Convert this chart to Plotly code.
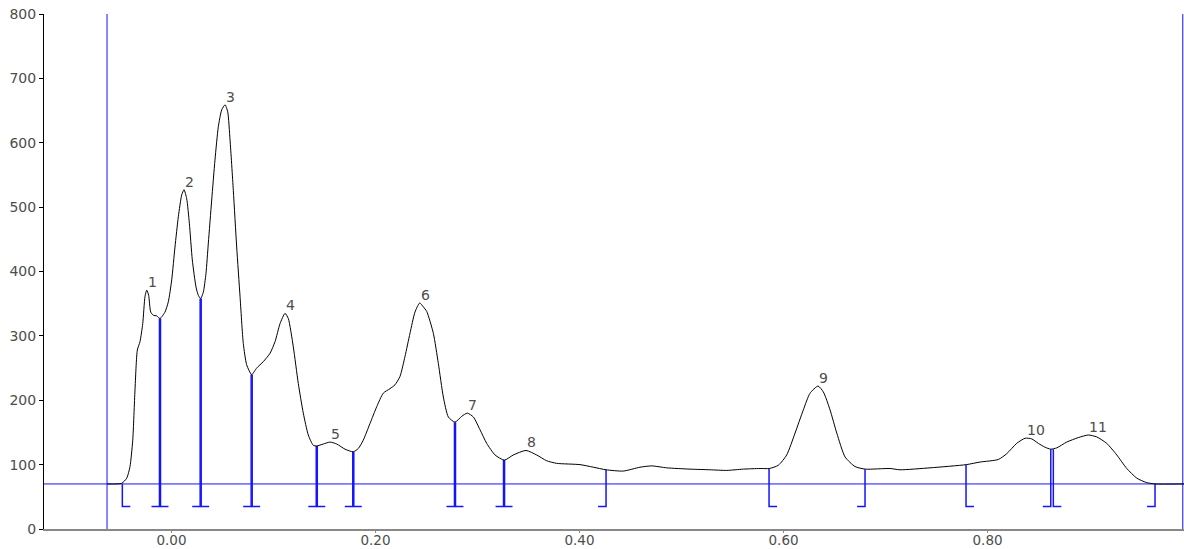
import plotly.graph_objects as go

# Detector trace: retention position vs. signal
trace_t = [
    -0.0632, -0.0488, -0.0439, -0.0407, -0.0380, -0.0358, -0.0335, -0.0309,
    -0.0282, -0.0260, -0.0243, -0.0224, -0.0204, -0.0178, -0.0145, -0.0113,
    -0.0064, -0.0031, 0.0002, 0.0034, 0.0067, 0.0100, 0.0123, 0.0149,
    0.0175, 0.0204, 0.0240, 0.0263, 0.0286, 0.0312, 0.0338, 0.0361,
    0.0394, 0.0426, 0.0459, 0.0492, 0.0525, 0.0551, 0.0574, 0.0606,
    0.0639, 0.0672, 0.0704, 0.0737, 0.0786, 0.0835, 0.0900, 0.0966,
    0.1015, 0.1064, 0.1113, 0.1145, 0.1194, 0.1243, 0.1292, 0.1341,
    0.1390, 0.1424, 0.1488, 0.1554, 0.1620, 0.1701, 0.1782, 0.1831,
    0.1880, 0.1946, 0.2012, 0.2076, 0.2142, 0.2191, 0.2240, 0.2289,
    0.2338, 0.2387, 0.2433, 0.2469, 0.2502, 0.2567, 0.2616, 0.2665,
    0.2714, 0.2779, 0.2845, 0.2900, 0.2959, 0.3025, 0.3090, 0.3172,
    0.3263, 0.3351, 0.3475, 0.3580, 0.3678, 0.3776, 0.4005, 0.4135,
    0.4260, 0.4429, 0.4593, 0.4708, 0.4855, 0.5083, 0.5279, 0.5443,
    0.5606, 0.5770, 0.5861, 0.5949, 0.6031, 0.6113, 0.6194, 0.6260,
    0.6338, 0.6390, 0.6456, 0.6522, 0.6603, 0.6701, 0.6802, 0.7044,
    0.7142, 0.7436, 0.7792, 0.7926, 0.8106, 0.8188, 0.8286, 0.8368,
    0.8433, 0.8498, 0.8564, 0.8620, 0.8678, 0.8776, 0.8890, 0.8988,
    0.9071, 0.9169, 0.9267, 0.9365, 0.9463, 0.9561, 0.9645, 0.9926,
]
trace_signal = [
    70, 71, 79, 97, 138, 216, 278, 291,
    319, 361, 371, 363, 337, 332, 331, 327,
    337, 353, 387, 438, 485, 519, 527, 513,
    475, 418, 376, 363, 358, 368, 397, 444,
    511, 573, 625, 651, 659, 648, 604, 526,
    438, 361, 288, 255, 240, 250, 260, 273,
    291, 319, 335, 327, 283, 226, 180, 146,
    130, 129, 132, 135, 132, 124, 120, 125,
    138, 164, 190, 211, 218, 224, 237, 268,
    304, 337, 351, 345, 338, 304, 257, 205,
    174, 166, 175, 180, 174, 154, 133, 115,
    107, 115, 122, 115, 106, 102, 100, 96,
    92, 90, 96, 98, 95, 93, 92, 91,
    93, 94, 94, 99, 115, 149, 185, 211,
    222, 213, 185, 149, 112, 97, 93, 94,
    92, 95, 100, 104, 108, 117, 133, 141,
    140, 133, 127, 124, 126, 135, 142, 146,
    143, 133, 115, 94, 79, 72, 70, 70,
]

# Peak labels and apex positions
peak_labels = ["1", "2", "3", "4", "5", "6", "7", "8", "9", "10", "11"]
peak_apex_t = [-0.0243, 0.0123, 0.0525, 0.1113, 0.1554, 0.2433, 0.2900,
               0.3475, 0.6338, 0.8380, 0.8988]
peak_apex_signal = [371, 527, 659, 335, 135, 351, 180, 122, 222, 141, 146]

# Integration limits per peak and the signal at each limit
peak_start_t = [-0.0482, -0.0108, 0.0291, 0.0791, 0.1429, 0.1787, 0.2784,
                0.3265, 0.5858, 0.7789, 0.8645]
peak_start_signal = [70, 327, 358, 240, 129, 120, 166, 107, 94, 100, 124]
peak_end_t = [-0.0118, 0.0281, 0.0781, 0.1419, 0.1777, 0.2774, 0.3255,
              0.4260, 0.6799, 0.8620, 0.9642]
peak_end_signal = [327, 358, 240, 129, 120, 166, 107, 92, 93, 124, 70]

baseline_level = 70
marker_floor = 35
marker_foot = 0.0078
window_start = -0.0632
window_end = 0.9914

x_tickvals = [0.0, 0.2, 0.4, 0.6, 0.8]
x_ticktext = ["0.00", "0.20", "0.40", "0.60", "0.80"]

BLUE = "#1414ff"
TEXT_FONT = "DejaVu Sans, Verdana, sans-serif"

fig = go.Figure()

# Integration markers: drop line to the floor with a foot pointing into the peak
mx, my = [], []
for t0, s0 in zip(peak_start_t, peak_start_signal):
    mx += [t0, t0, t0 + marker_foot, None]
    my += [s0, marker_floor, marker_floor, None]
for t1, s1 in zip(peak_end_t, peak_end_signal):
    mx += [t1, t1, t1 - marker_foot, None]
    my += [s1, marker_floor, marker_floor, None]

fig.add_trace(go.Scatter(
    x=mx, y=my, mode="lines",
    line=dict(color=BLUE, width=1.5),
    hoverinfo="skip", showlegend=False,
))

fig.add_trace(go.Scatter(
    x=trace_t, y=trace_signal, mode="lines",
    line=dict(color="black", width=1, shape="spline", smoothing=0.6),
    showlegend=False,
))

# Baseline and integration window
fig.add_shape(type="line", xref="paper", x0=0, x1=1, yref="y",
              y0=baseline_level, y1=baseline_level,
              line=dict(color=BLUE, width=1), layer="below")
for wx in (window_start, window_end):
    fig.add_shape(type="line", xref="x", x0=wx, x1=wx, yref="paper",
                  y0=0, y1=1, line=dict(color=BLUE, width=1), layer="below")

for lab, px, py in zip(peak_labels, peak_apex_t, peak_apex_signal):
    fig.add_annotation(
        x=px, y=py, text=lab, showarrow=False,
        xanchor="left", yanchor="bottom", yshift=-2, xshift=-1,
        font=dict(family=TEXT_FONT, size=14, color="#4d4d4d"),
    )

fig.update_layout(
    width=1184, height=549,
    margin=dict(l=44, r=0, t=14, b=20),
    paper_bgcolor="white", plot_bgcolor="white",
    font=dict(family=TEXT_FONT, size=14, color="#4d4d4d"),
    xaxis=dict(
        range=[-0.125, 0.9926], automargin=False,
        tickvals=x_tickvals, ticktext=x_ticktext,
        showgrid=False, zeroline=False,
        showline=True, linecolor="#888", linewidth=1.5,
        ticks="outside", ticklen=2, tickcolor="#888",
        ticklabelstandoff=-4,
        tickfont=dict(family=TEXT_FONT, size=13.5, color="#4d4d4d"),
    ),
    yaxis=dict(
        range=[0, 800], dtick=100, automargin=False,
        showgrid=False, zeroline=False,
        showline=True, linecolor="black", linewidth=1,
        ticks="outside", ticklen=4, tickcolor="black",
        tickfont=dict(family=TEXT_FONT, size=14, color="#4d4d4d"),
    ),
)

fig.write_html("out.html")
